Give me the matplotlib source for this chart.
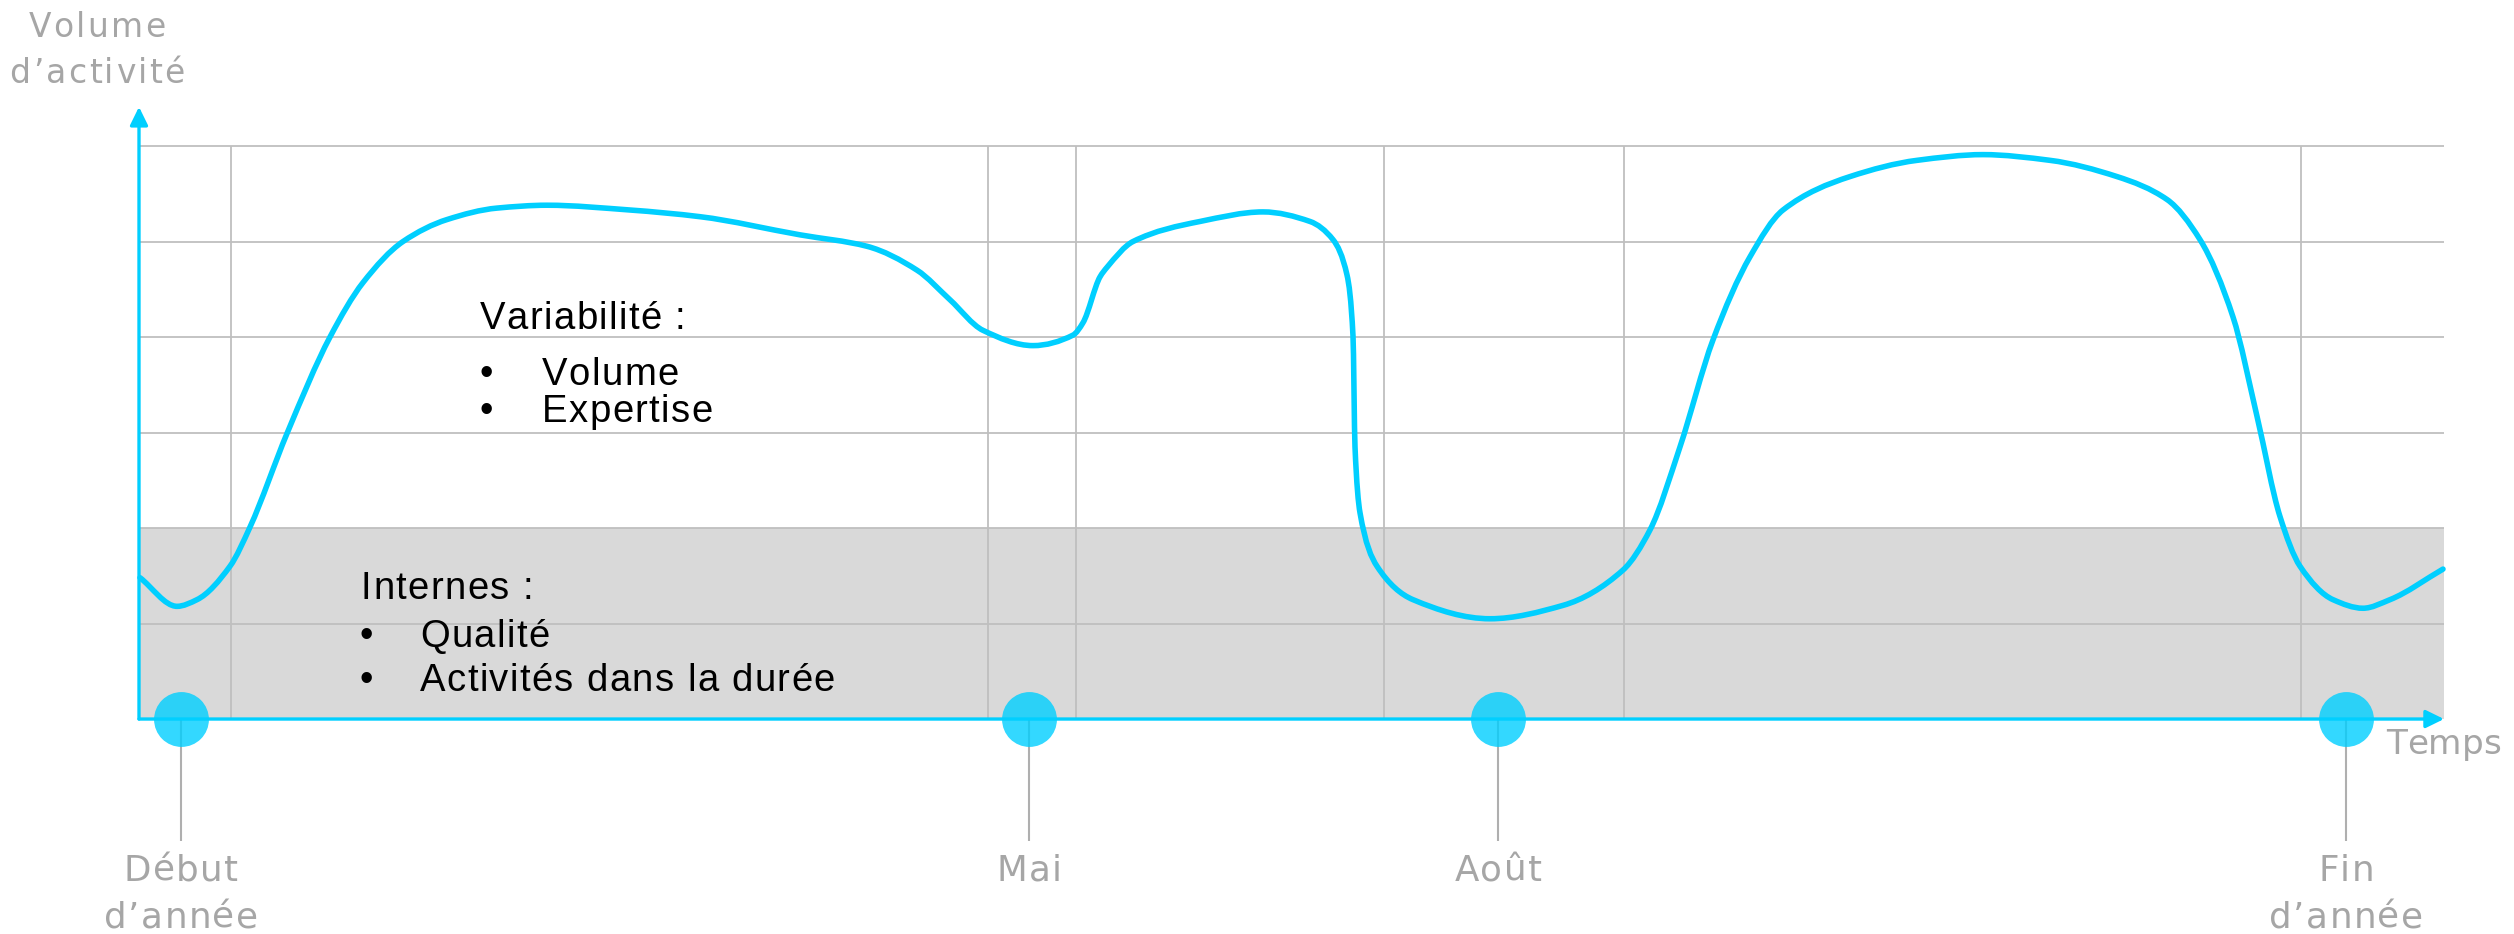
import numpy as np
import matplotlib.pyplot as plt
from matplotlib.path import Path
from matplotlib.patches import PathPatch
from matplotlib.font_manager import FontProperties, findfont, get_font
from matplotlib.transforms import offset_copy

plt.rcParams['font.family'] = ['Liberation Sans', 'DejaVu Sans']

# abscisse : pas de 10 px depuis l'axe vertical, ordonnée : graduations 0 à 6
courbe_x = [0.1, 3.8, 5.8, 9.1, 11.1, 14.8, 19.1, 22.4, 26.4, 30.8, 35.8, 40.8,
            49.1, 56.1, 66.1, 72.8, 77.8, 81.1, 84.4, 89.4, 93.4, 94.4, 96.1,
            96.8, 99.4, 106.1, 112.4, 117.1, 119.4, 120.8, 121.4, 121.6, 122.1,
            123.8, 127.4, 135.1, 142.4, 148.4, 151.1, 154.1, 157.4, 161.1,
            164.4, 171.1, 177.8, 184.4, 191.1, 197.8, 202.8, 206.1, 209.4,
            211.8, 214.1, 216.1, 219.4, 222.4, 225.1, 230.4]
courbe_y = [1.48, 1.18, 1.25, 1.60, 2.01, 2.99, 4.00, 4.57, 5.00, 5.23, 5.35, 5.38,
            5.33, 5.26, 5.07, 4.95, 4.70, 4.39, 4.07, 3.91, 4.02, 4.15, 4.63,
            4.73, 5.00, 5.21, 5.31, 5.21, 5.02, 4.65, 4.01, 2.85, 2.16,
            1.60, 1.25, 1.05, 1.19, 1.56, 1.98, 2.85, 3.97, 4.84,
            5.33, 5.68, 5.85, 5.91, 5.85, 5.68, 5.44, 5.02, 4.21,
            3.17, 2.12, 1.60, 1.25, 1.16, 1.25, 1.57]

grille_x = [9.2, 84.9, 93.7, 124.5, 148.5, 216.2]
grille_y = [1, 2, 3, 4, 5, 6]
x_max = 230.5
y_fleche = 6.41
bande_haut = 2

jalons_x = [4.2, 89.0, 135.9, 220.7]
jalons_textes = [["Début", "d’année"], ["Mai"], ["Août"], ["Fin", "d’année"]]

variabilite = ["Volume", "Expertise"]
internes = ["Qualité", "Activités dans la durée"]

cyan = '#00cfff'
gris_texte = '#a6a6a6'

fig = plt.figure(figsize=(25.14, 9.34), dpi=100)
ax = fig.add_axes([0, 0, 1, 1])
ax.set_xlim(-13.9, 237.5)
ax.set_ylim(-2.251, 7.529)
ax.axis('off')

polices = {f: findfont(FontProperties(family=f)) for f in ['Liberation Sans', 'DejaVu Sans']}


def texte(x, y, s, taille, espace, ha='left', famille='Liberation Sans', **kw):
    # texte avec interlettrage, caractère par caractère
    f = get_font(polices[famille])
    f.set_size(taille, 72)
    avances = [f.load_char(ord(c)).linearHoriAdvance / 65536 for c in s]
    largeur = sum(avances) + espace * (len(s) - 1)
    pos = -largeur / 2 if ha == 'center' else 0
    for c, a in zip(s, avances):
        if c != ' ':
            tr = offset_copy(ax.transData, fig=fig, x=pos, y=0, units='points')
            ax.text(x, y, c, transform=tr, ha='left', va='baseline',
                    fontsize=taille, family=famille, **kw)
        pos += a + espace


# zone grise "internes" et grille
ax.fill_between([0, x_max], 0, bande_haut, color='#d9d9d9', lw=0, zorder=1)
ax.hlines(grille_y, 0, x_max, color='#bfbfbf', lw=1.3, zorder=2)
ax.vlines(grille_x, 0, grille_y[-1], color='#bfbfbf', lw=1.3, zorder=2)

# courbe d'activité : segments de Bézier avec pentes monotones (type PCHIP)
xs = np.array(courbe_x)
ys = np.array(courbe_y)
h = np.diff(xs)
delta = np.diff(ys) / h
d = np.zeros_like(ys)
d[0], d[-1] = delta[0], delta[-1]
for k in range(1, len(xs) - 1):
    if delta[k - 1] * delta[k] > 0:
        w1 = 2 * h[k] + h[k - 1]
        w2 = h[k] + 2 * h[k - 1]
        d[k] = (w1 + w2) / (w1 / delta[k - 1] + w2 / delta[k])
sommets = [(xs[0], ys[0])]
codes = [Path.MOVETO]
for k in range(len(xs) - 1):
    sommets += [(xs[k] + h[k] / 3, ys[k] + d[k] * h[k] / 3),
                (xs[k + 1] - h[k] / 3, ys[k + 1] - d[k + 1] * h[k] / 3),
                (xs[k + 1], ys[k + 1])]
    codes += [Path.CURVE4] * 3
ax.add_patch(PathPatch(Path(sommets, codes), fill=False, edgecolor=cyan,
                       linewidth=4.0, capstyle='round', joinstyle='round', zorder=4))

# axes avec flèches
fleche = dict(arrowstyle='-|>,head_length=0.55,head_width=0.27', color=cyan,
              lw=2.4, mutation_scale=20, shrinkA=0, shrinkB=0)
ax.annotate('', xy=(0, y_fleche), xytext=(0, 0), arrowprops=fleche, zorder=5)
ax.annotate('', xy=(x_max, 0), xytext=(0, 0), arrowprops=fleche, zorder=5)

# jalons
ax.vlines(jalons_x, -1.28, 0, color='#afafaf', lw=1.5, zorder=3)
ax.plot(jalons_x, [0] * len(jalons_x), 'o', ms=39.5, color=cyan, alpha=0.8,
        mec='none', zorder=6)
for x, lignes in zip(jalons_x, jalons_textes):
    for i, t in enumerate(lignes):
        texte(x, -1.696 - 0.492 * i, t, 25.7, 1.0, ha='center',
              famille='DejaVu Sans', color=gris_texte)

texte(-4.2, 7.141, "Volume", 23.7, 1.7, ha='center', famille='DejaVu Sans', color=gris_texte)
texte(-4.2, 6.660, "d’activité", 23.7, 1.7, ha='center', famille='DejaVu Sans', color=gris_texte)
texte(224.7, -0.366, "Temps", 24.7, 0.0, famille='DejaVu Sans', color=gris_texte)

# encarts de texte
texte(34.1, 4.084, "Variabilité :", 27.5, 1.0, zorder=7)
for i, t in enumerate(variabilite):
    yy = 3.497 - 0.387 * i
    ax.text(34.7, yy, "•", ha='center', va='baseline', fontsize=27.5, zorder=7)
    texte(40.3, yy, t, 27.5, 1.0, zorder=7)

texte(22.2, 1.257, "Internes :", 27.5, 1.0, zorder=7)
for i, t in enumerate(internes):
    yy = 0.754 - 0.461 * i
    ax.text(22.7, yy, "•", ha='center', va='baseline', fontsize=27.5, zorder=7)
    texte(28.1, yy, t, 27.5, 1.0, zorder=7)

fig.savefig('out.png', dpi=100)
